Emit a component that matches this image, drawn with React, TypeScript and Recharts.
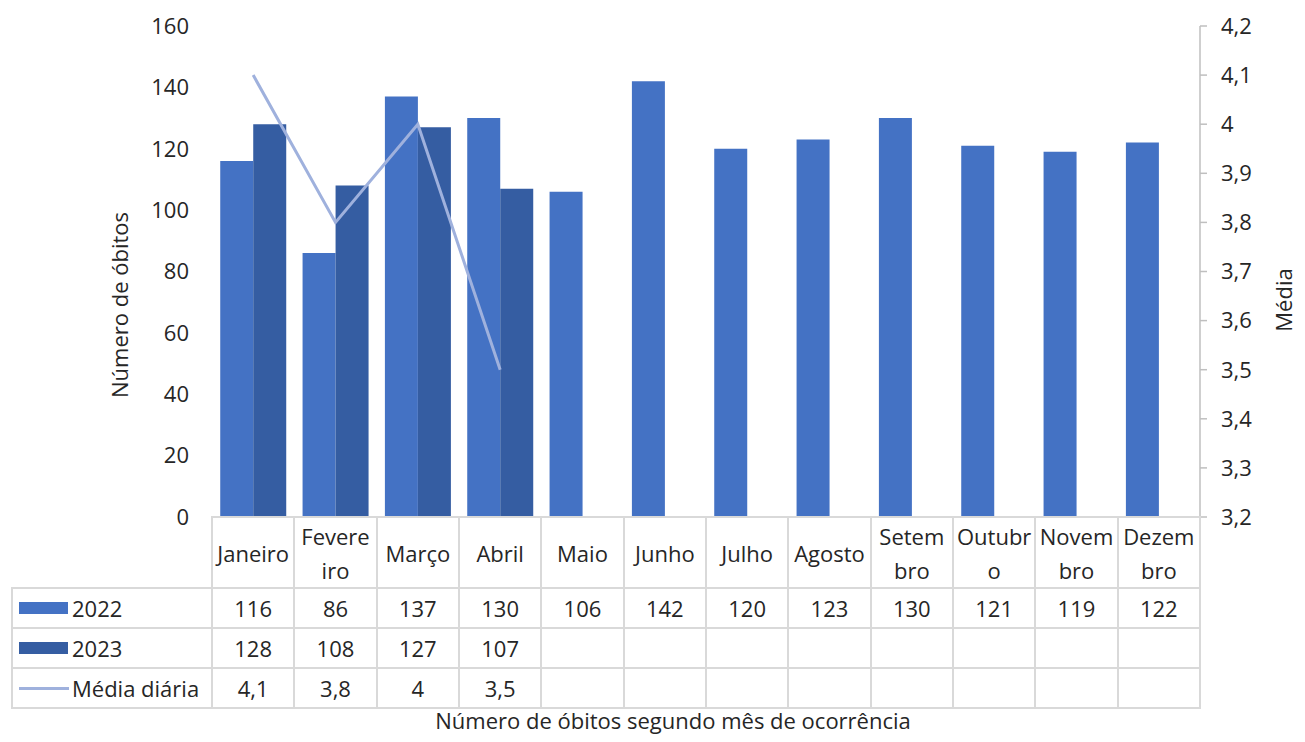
import { ComposedChart, Bar, Line, XAxis, YAxis } from 'recharts';

const months = ['Janeiro', 'Fevereiro', 'Março', 'Abril', 'Maio', 'Junho', 'Julho', 'Agosto', 'Setembro', 'Outubro', 'Novembro', 'Dezembro'];
// labels as wrapped in the data table header
const monthLabels = [['Janeiro'], ['Fevere', 'iro'], ['Março'], ['Abril'], ['Maio'], ['Junho'], ['Julho'], ['Agosto'], ['Setem', 'bro'], ['Outubr', 'o'], ['Novem', 'bro'], ['Dezem', 'bro']];
const obitos2022 = [116, 86, 137, 130, 106, 142, 120, 123, 130, 121, 119, 122];
const obitos2023 = [128, 108, 127, 107, null, null, null, null, null, null, null, null];
const mediaDiaria = [4.1, 3.8, 4, 3.5, null, null, null, null, null, null, null, null];
const leftTicks = [0, 20, 40, 60, 80, 100, 120, 140, 160];
const rightTicks = [3.2, 3.3, 3.4, 3.5, 3.6, 3.7, 3.8, 3.9, 4.0, 4.1, 4.2];

const C2022 = '#4472C4';
const C2023 = '#355DA2';
const CLINE = '#9FB1DD';
const GRID = '#D9D9D9';
const TEXT = '#262626';
const FONT = '"Open Sans", sans-serif';
const FS = 22;

const W = 1289;
const H = 726;
const PL = 204;
const PR = 1192;
const PT = 18;
const PB = 509;
const colW = (PR - PL) / 12;

const data = months.map((m, i) => ({
  month: m,
  y2022: obitos2022[i],
  y2023: obitos2023[i],
  media: mediaDiaria[i],
}));

const fmt = (v: number | null) => (v == null ? '' : String(Number(v.toFixed(1))).replace('.', ','));

const Cell = (props: { left: number; top: number; width: number; height: number; children?: any; align?: string }) => (
  <div
    style={{
      position: 'absolute',
      left: props.left - 1,
      top: props.top - 1,
      width: props.width + 2,
      height: props.height + 2,
      border: `2px solid ${GRID}`,
      boxSizing: 'border-box',
      display: 'flex',
      flexDirection: 'column',
      alignItems: props.align === 'left' ? 'flex-start' : 'center',
      justifyContent: 'center',
      lineHeight: '34px',
    }}
  >
    {props.children}
  </div>
);

const rows = [
  { name: '2022', values: obitos2022, key: 'bar', color: C2022 },
  { name: '2023', values: obitos2023, key: 'bar', color: C2023 },
  { name: 'Média diária', values: mediaDiaria, key: 'line', color: CLINE },
];

export default function App() {
  return (
    <div style={{ position: 'relative', width: W, height: H, fontFamily: FONT, fontSize: FS, color: TEXT, background: '#fff' }}>
      <ComposedChart
        width={W}
        height={H}
        data={data}
        margin={{ top: PT, left: PL - 60, right: W - PR - 80, bottom: H - PB }}
        barCategoryGap="10%"
        barGap={0}
        style={{ position: 'absolute', left: 0, top: 0 }}
      >
        <XAxis dataKey="month" hide height={0} />
        <YAxis
          yAxisId="left"
          width={60}
          domain={[0, 160]}
          ticks={leftTicks}
          axisLine={false}
          tickLine={false}
          tickSize={6}
          tickMargin={17}
          tick={{ fill: TEXT, fontSize: FS, fontFamily: FONT }}
        />
        <YAxis
          yAxisId="right"
          orientation="right"
          width={80}
          domain={[3.2, 4.2]}
          ticks={rightTicks}
          tickFormatter={(v: number) => fmt(v)}
          axisLine={{ stroke: '#BFBFBF', strokeWidth: 1.5 }}
          tickLine={{ stroke: '#BFBFBF', strokeWidth: 1.5 }}
          tickSize={7}
          tickMargin={14}
          tick={{ fill: TEXT, fontSize: FS, fontFamily: FONT }}
        />
        <Bar yAxisId="left" dataKey="y2022" fill={C2022} isAnimationActive={false} />
        <Bar yAxisId="left" dataKey="y2023" fill={C2023} isAnimationActive={false} />
        <Line yAxisId="right" dataKey="media" stroke={CLINE} strokeWidth={3} dot={false} isAnimationActive={false} />
      </ComposedChart>

      {/* data table */}
      {monthLabels.map((lines, i) => (
        <Cell key={'h' + i} left={PL + i * colW} top={PB} width={colW} height={71}>
          {lines.map((t) => (
            <span key={t}>{t}</span>
          ))}
        </Cell>
      ))}
      {rows.map((r, ri) => {
        const top = PB + 71 + ri * 40;
        return (
          <div key={r.name}>
            <Cell left={4} top={top} width={PL - 4} height={40} align="left">
              <div style={{ display: 'flex', alignItems: 'center' }}>
                {r.key === 'bar' ? (
                  <div style={{ width: 49, height: 12, background: r.color, marginLeft: 6, marginRight: 4 }} />
                ) : (
                  <div style={{ width: 50, height: 3, background: r.color, marginLeft: 6, marginRight: 3 }} />
                )}
                <span>{r.name}</span>
              </div>
            </Cell>
            {r.values.map((v, i) => (
              <Cell key={i} left={PL + i * colW} top={top} width={colW} height={40}>
                <span>{fmt(v)}</span>
              </Cell>
            ))}
          </div>
        );
      })}

      {/* axis titles */}
      <svg width={W} height={H} style={{ position: 'absolute', left: 0, top: 0, pointerEvents: 'none' }}>
        <g fontFamily={FONT} fontSize={FS} fill={TEXT} textAnchor="middle">
          <text x={111} y={297} dominantBaseline="central" transform="rotate(-90 111 297)">
            Número de óbitos
          </text>
          <text x={1275} y={292} dominantBaseline="central" transform="rotate(-90 1275 292)">
            Média
          </text>
          <text x={665} y={721}>Número de óbitos segundo mês de ocorrência</text>
        </g>
      </svg>
    </div>
  );
}
